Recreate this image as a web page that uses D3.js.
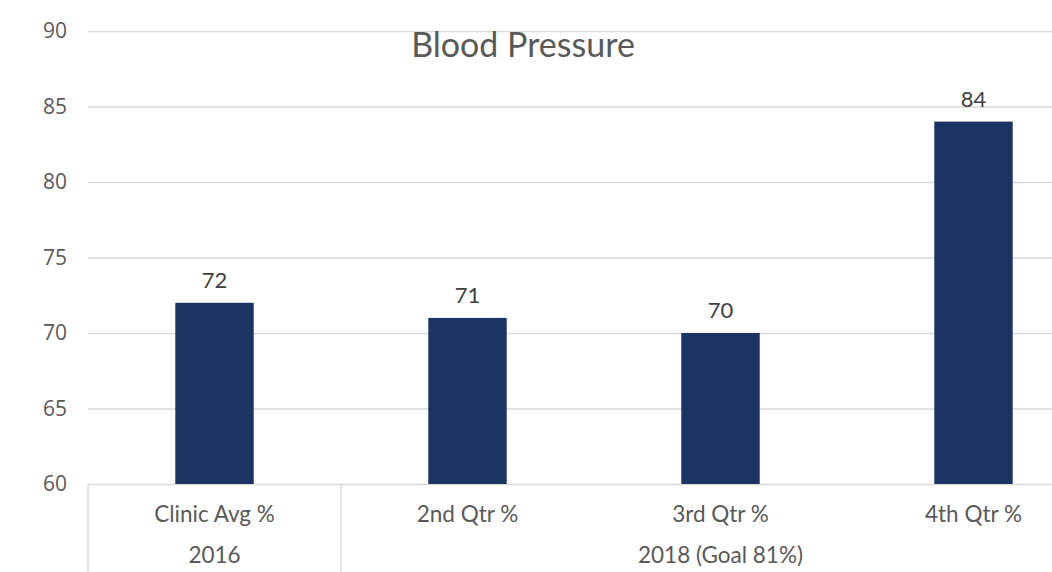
<!DOCTYPE html>
<html>
<head>
<meta charset="utf-8">
<script src="https://cdn.jsdelivr.net/npm/d3@7"></script>
<style>
  body { margin: 0; background: #fff; }
  .grid line { stroke: #d9d9d9; stroke-width: 1.3; }
  .grid path { display: none; }
  .y.axis path, .y.axis line { display: none; }
  .y.axis text { font-family: "Open Sans", sans-serif; font-size: 21px; fill: #595959; }
  .cat-label, .group-label { font-family: Lato, sans-serif; font-size: 22.5px; fill: #595959; }
  .value-label { font-family: Lato, sans-serif; font-size: 22px; fill: #404040; }
  .title { font-family: Lato, sans-serif; font-size: 34px; fill: #595959; }
</style>
</head>
<body>
<div id="chart"></div>
<script>
// data
var categories = ["Clinic Avg %", "2nd Qtr %", "3rd Qtr %", "4th Qtr %"];
var values = [72, 71, 70, 84];
var groups = ["2016", "2018 (Goal 81%)"];
var groupSizes = [1, 3];
var yTicks = [60, 65, 70, 75, 80, 85, 90];

var width = 1052, height = 572;
// plot area runs past the right edge like the source picture
var plotLeft = 88, plotRight = 1100, plotTop = 31, plotBottom = 484;

var svg = d3.select("#chart").append("svg")
    .attr("width", width)
    .attr("height", height)
    .style("background-color", "#fff");

var x = d3.scaleBand()
    .domain(categories)
    .range([plotLeft, plotRight])
    .paddingInner(0.69)
    .paddingOuter(0.345);

var y = d3.scaleLinear().domain([60, 90]).range([plotBottom, plotTop]);

var step = (plotRight - plotLeft) / categories.length;

// y grid
svg.append("g")
    .attr("class", "grid")
    .attr("transform", "translate(" + plotLeft + ",0)")
    .call(d3.axisLeft(y).tickValues(yTicks).tickSize(-(plotRight - plotLeft)).tickFormat(""));

// y axis labels
svg.append("g")
    .attr("class", "y axis")
    .attr("transform", "translate(" + (plotLeft - 21) + ",0)")
    .call(d3.axisLeft(y).tickValues(yTicks).tickSize(0).tickPadding(0));

// bars
svg.selectAll(".bar")
    .data(values)
  .enter().append("rect")
    .attr("class", "bar")
    .attr("x", function(d, i) { return x(categories[i]); })
    .attr("width", x.bandwidth())
    .attr("y", function(d) { return y(d); })
    .attr("height", function(d) { return y(60) - y(d); })
    .style("fill", "#1c3461");

// value labels
svg.selectAll(".value-label")
    .data(values)
  .enter().append("text")
    .attr("class", "value-label")
    .attr("text-anchor", "middle")
    .attr("x", function(d, i) { return x(categories[i]) + x.bandwidth() / 2; })
    .attr("y", function(d) { return y(d) - 15; })
    .text(function(d) { return d; });

// category labels
svg.selectAll(".cat-label")
    .data(categories)
  .enter().append("text")
    .attr("class", "cat-label")
    .attr("text-anchor", "middle")
    .attr("x", function(d) { return x(d) + x.bandwidth() / 2; })
    .attr("y", plotBottom + 38)
    .text(function(d) { return d; });

// group labels + separators
var start = 0;
var bounds = [0];
groups.forEach(function(g, i) {
  var x0 = plotLeft + start * step;
  var x1 = plotLeft + (start + groupSizes[i]) * step;
  svg.append("text")
      .attr("class", "group-label")
      .attr("text-anchor", "middle")
      .attr("x", (x0 + x1) / 2)
      .attr("y", plotBottom + 79)
      .text(g);
  start += groupSizes[i];
  bounds.push(start);
});

svg.selectAll(".sep")
    .data(bounds)
  .enter().append("line")
    .attr("x1", function(d) { return plotLeft + d * step; })
    .attr("x2", function(d) { return plotLeft + d * step; })
    .attr("y1", plotBottom)
    .attr("y2", height)
    .style("stroke", "#d9d9d9")
    .style("stroke-width", 1.3);

// title
svg.append("text")
    .attr("class", "title")
    .attr("text-anchor", "middle")
    .attr("x", 523)
    .attr("y", 57)
    .text("Blood Pressure");
</script>
</body>
</html>
